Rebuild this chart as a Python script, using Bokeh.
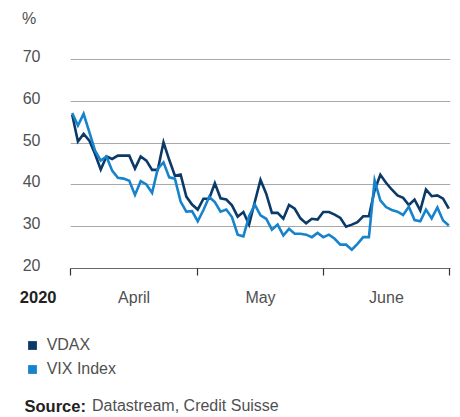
from bokeh.plotting import figure
from bokeh.layouts import column
from bokeh.models import Range1d, FixedTicker, CustomJSTickFormatter, Label, Legend, LegendItem
from bokeh.core.properties import value
from bokeh.embed import file_html
from bokeh.resources import INLINE

# ---- data ----
vdax = [56.8, 50.4, 52.2, 50.6, 47.4, 43.7, 46.8, 46.2, 47.0, 47.0,
        47.0, 43.9, 46.8, 45.8, 43.6, 43.6, 50.2, 46.0, 42.2, 42.5,
        37.2, 35.3, 34.1, 36.7, 36.7, 40.4, 36.8, 36.5, 35.1, 32.4,
        33.5, 30.5, 35.9, 41.2, 37.9, 33.3, 33.3, 31.9, 35.2, 34.3,
        32.0, 30.8, 31.9, 31.7, 33.5, 33.5, 32.9, 32.1, 30.0, 30.5,
        31.1, 32.5, 32.5, 38.7, 42.4, 40.5, 38.9, 37.5, 36.9, 35.2,
        36.5, 33.9, 38.9, 37.3, 37.5, 36.7, 34.3]
vix = [57.2, 54.2, 57.0, 52.6, 48.2, 45.8, 46.8, 43.4, 41.7, 41.5,
       41.0, 37.6, 40.9, 40.1, 38.1, 43.9, 45.4, 41.8, 41.5, 36.0,
       33.6, 33.7, 31.3, 34.0, 37.1, 35.9, 33.6, 34.1, 32.3, 28.1,
       27.7, 32.5, 35.3, 32.7, 31.9, 29.3, 30.5, 27.9, 29.5, 28.3,
       28.3, 28.1, 27.5, 28.5, 27.5, 28.1, 27.1, 25.7, 25.7, 24.5,
       25.9, 27.5, 27.5, 41.1, 36.3, 34.7, 34.0, 33.6, 32.8, 34.8,
       31.6, 31.3, 34.1, 32.0, 34.6, 31.5, 30.3]
days = list(range(len(vdax)))

year_label = "2020"
months = ["April", "May", "June"]
month_edges = [-0.25, 21.95, 44.05, 66.1]
y_ticks = [20, 30, 40, 50, 60, 70]
grid_values = [30, 40, 50, 60, 70]
series_names = ["VDAX", "VIX Index"]
series_colors = ["#0b3a68", "#1683cc"]
source_bold = "Source:"
source_rest = "Datastream, Credit Suisse"

FONT = "Liberation Sans"
TXT = "#505050"
DARK = "#222222"
W = 460
NAN = float("nan")

def bare(fig):
    fig.outline_line_color = None
    fig.background_fill_color = "white"
    fig.border_fill_color = "white"
    fig.axis.visible = False
    fig.grid.visible = False

# ---------- top strip: unit label ----------
TH = 38
top = figure(width=W, height=TH, output_backend="svg", toolbar_location=None,
             min_border=0, x_range=Range1d(0, 1), y_range=Range1d(0, 1),
             frame_align=False)
bare(top)
top.add_layout(Label(text="%", x=21.5, y=TH - 18.4, x_units="screen", y_units="screen",
                     text_font=FONT, text_font_size="16px", text_color=TXT,
                     text_baseline="middle"))

# ---------- main chart ----------
XL, XR = -0.3, 66.3
BL, BR = 70, 10
p = figure(width=W, height=240, output_backend="svg", toolbar_location=None,
           x_range=Range1d(XL, XR), y_range=Range1d(20, 72.15),
           min_border_left=BL, min_border_right=BR, min_border_top=12,
           min_border_bottom=10, frame_align=False)
p.outline_line_color = None
p.background_fill_color = "white"
p.border_fill_color = "white"

p.xgrid.visible = False
p.ygrid.ticker = FixedTicker(ticks=grid_values)
p.ygrid.grid_line_color = "#a9a9a9"
p.ygrid.grid_line_width = 1.2

lab_off = 0.85  # labels sit a little above their gridline
p.yaxis.ticker = FixedTicker(ticks=[v + lab_off for v in y_ticks])
p.yaxis.formatter = CustomJSTickFormatter(code="return Math.round(tick - %s).toString();" % lab_off)
p.yaxis.axis_line_color = None
p.yaxis.major_tick_line_color = None
p.yaxis.minor_tick_line_color = None
p.yaxis.major_tick_out = 0
p.yaxis.major_tick_in = 0
p.yaxis.major_label_standoff = 30
p.yaxis.major_label_text_font = FONT
p.yaxis.major_label_text_font_size = "16px"
p.yaxis.major_label_text_color = TXT

p.xaxis.ticker = FixedTicker(ticks=[], minor_ticks=month_edges)
p.xaxis.axis_line_color = "#666666"
p.xaxis.axis_line_width = 1.2
p.xaxis.major_tick_line_color = None
p.xaxis.major_tick_out = 0
p.xaxis.major_tick_in = 0
p.xaxis.minor_tick_line_color = "#333333"
p.xaxis.minor_tick_line_width = 1.2
p.xaxis.minor_tick_out = 7
p.xaxis.minor_tick_in = 0

p.line(days, vdax, line_color=series_colors[0], line_width=2.6, line_join="miter")
p.line(days, vix, line_color=series_colors[1], line_width=2.6, line_join="miter")

# ---------- bottom strip: month labels, year, legend, source ----------
BH = 139
Y0 = TH + 240            # page y of the strip's top edge
upx = (XR - XL) / (W - BL - BR)
bot = figure(width=W, height=BH, output_backend="svg", toolbar_location=None,
             min_border=0, frame_align=False,
             x_range=Range1d(XL - BL * upx, XR + BR * upx),
             y_range=Range1d(Y0 + BH, Y0))   # y measured downward, page pixels
bare(bot)

mids = [(month_edges[i] + month_edges[i + 1]) / 2 for i in range(len(months))]
bot.text(x=mids, y=[297] * len(months), text=months, text_align="center",
         text_baseline="middle", text_font=value(FONT), text_font_size="16px",
         text_color=TXT)

def lab(fig, text, x, y, bold=False, color=TXT, size="16px"):
    fig.add_layout(Label(text=text, x=x, y=y, x_units="screen", y_units="data",
                         text_font=FONT, text_font_size=size, text_color=color,
                         text_font_style="bold" if bold else "normal",
                         text_baseline="middle", text_align="left"))

lab(bot, year_label, 19.3, 296.4, bold=True, color=DARK, size="16.5px")
lab(bot, source_bold, 24, 405.2, bold=True, color=DARK, size="16.5px")
lab(bot, source_rest, 91.5, 405.2)

sw = [bot.scatter([NAN], [NAN], marker="square", fill_color=c, line_color=None)
      for c in series_colors]
legend = Legend(items=[LegendItem(label=n, renderers=[r]) for n, r in zip(series_names, sw)],
                location=(20.65, Y0 + BH - 380.2), orientation="vertical",
                glyph_width=22, glyph_height=22, label_height=22, spacing=2,
                label_standoff=4, padding=0, margin=0,
                border_line_color=None, background_fill_alpha=0,
                label_text_font=FONT, label_text_font_size="16px", label_text_color=TXT)
bot.add_layout(legend, "center")

layout = column(top, p, bot, spacing=0)
open("out.html", "w").write(file_html(layout, INLINE))
